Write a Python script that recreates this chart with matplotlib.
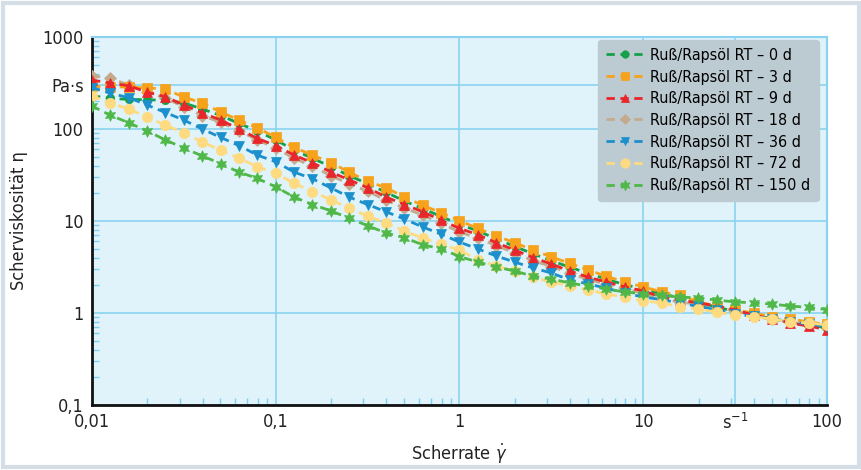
import numpy as np
import matplotlib
matplotlib.use("Agg")
import matplotlib.pyplot as plt
from matplotlib.patches import FancyBboxPatch
from matplotlib.ticker import LogLocator, NullFormatter, FixedLocator, FixedFormatter

plt.rcParams['font.family'] = ['DejaVu Sans']
plt.rcParams['font.stretch'] = 'condensed'

# shear rate, 10 points per decade from 0.01 to 100 1/s
scherrate = 10 ** (np.arange(41) / 10.0 - 2)

eta_0d = [230, 215, 210, 208, 205, 192, 165, 140, 115, 95,
          76, 59, 48, 39, 31, 25.5, 20.5, 16.5, 13.6, 11.2,
          9.2, 7.8, 6.4, 5.3, 4.4, 3.7, 3.15, 2.7, 2.33, 2.03,
          1.82, 1.62, 1.46, 1.30, 1.16, 1.04, 0.95, 0.87, 0.80, 0.74, 0.69]
eta_3d = [290, 288, 285, 280, 272, 222, 192, 153, 125, 103,
          81, 63, 52, 43, 34, 27, 23, 18.2, 14.8, 12.3,
          10.1, 8.3, 6.9, 5.8, 4.84, 4.07, 3.47, 2.93, 2.51, 2.17,
          1.92, 1.70, 1.55, 1.32, 1.19, 1.08, 1.0, 0.91, 0.86, 0.80, 0.75]
eta_9d = [340, 316, 295, 251, 224, 182, 150, 125, 100, 79,
          66, 52, 43, 34, 28, 23, 18.2, 15.1, 12.6, 10.2,
          8.3, 7.1, 5.8, 4.84, 4.0, 3.41, 2.86, 2.45, 2.17, 1.92,
          1.74, 1.49, 1.38, 1.29, 1.19, 1.08, 0.95, 0.86, 0.78, 0.72, 0.66]
eta_18d = [380, 357, 300, 255, 215, 175, 140, 118, 96, 76,
           62, 48, 39.5, 31, 25.5, 21, 16.8, 13.8, 11.6, 9.4,
           7.6, 6.5, 5.4, 4.5, 3.7, 3.2, 2.7, 2.32, 2.05, 1.82,
           1.65, 1.42, 1.32, 1.24, 1.15, 1.05, 0.94, 0.86, 0.79, 0.74, 0.68]
eta_36d = [282, 245, 219, 182, 151, 125, 100, 81, 66, 52,
           44, 34, 28.8, 22.9, 18.2, 15.1, 12.6, 10.5, 8.6, 7.2,
           5.9, 4.97, 4.17, 3.58, 3.09, 2.72, 2.29, 2.07, 1.86, 1.65,
           1.49, 1.40, 1.28, 1.18, 1.08, 0.98, 0.92, 0.86, 0.80, 0.76, 0.71]
eta_72d = [229, 191, 165, 135, 110, 91, 72, 59, 48, 39,
           33, 25.7, 20.9, 17.0, 13.8, 11.3, 9.5, 7.8, 6.5, 5.6,
           4.84, 3.77, 3.24, 2.86, 2.45, 2.17, 1.96, 1.78, 1.61, 1.49,
           1.35, 1.29, 1.16, 1.10, 1.02, 0.95, 0.91, 0.86, 0.80, 0.78, 0.74]
eta_150d = [178, 141, 117, 95, 76, 62, 51, 42, 34, 29,
            23.5, 18.2, 15.1, 12.9, 10.7, 8.9, 7.4, 6.6, 5.5, 5.0,
            4.1, 3.58, 3.16, 2.86, 2.51, 2.34, 2.12, 1.96, 1.82, 1.69,
            1.62, 1.55, 1.49, 1.46, 1.38, 1.32, 1.29, 1.25, 1.19, 1.15, 1.09]

labels = ['Ruß/Rapsöl RT – 0 d', 'Ruß/Rapsöl RT – 3 d', 'Ruß/Rapsöl RT – 9 d',
          'Ruß/Rapsöl RT – 18 d', 'Ruß/Rapsöl RT – 36 d', 'Ruß/Rapsöl RT – 72 d',
          'Ruß/Rapsöl RT – 150 d']
series = [eta_0d, eta_3d, eta_9d, eta_18d, eta_36d, eta_72d, eta_150d]
colors = ['#16a04a', '#f7a21b', '#e8262b', '#c4aa8c', '#1b90cc', '#fedb80', '#4fb848']
markers = ['o', 's', '^', 'D', 'v', 'o', (6, 1, 0)]
msizes = [6, 6.5, 7, 6, 7, 7.5, 8.5]
zorders = [4, 5, 6, 3, 7, 8, 9]

fig = plt.figure(figsize=(8.62, 4.70), dpi=100)
fig.patch.set_facecolor('white')
# light frame round the figure
fig.patches.append(FancyBboxPatch((0.003, 0.006), 0.994, 0.988, boxstyle='square,pad=0',
                                  transform=fig.transFigure, fill=False,
                                  edgecolor='#d5dee6', linewidth=3, zorder=0))

ax = fig.add_axes([0.1067, 0.1383, 0.8527, 0.783])
ax.set_facecolor('#e0f2fa')
ax.set_xscale('log')
ax.set_yscale('log')
ax.set_xlim(0.01, 100)
ax.set_ylim(0.1, 1000)

for y, lab, c, m, ms, z in zip(series, labels, colors, markers, msizes, zorders):
    ax.plot(scherrate, y, linestyle=(0, (3, 2)), linewidth=2, color=c,
            marker=m, markersize=ms, markeredgewidth=0.5, markeredgecolor=c,
            label=lab, zorder=z)

ax.grid(True, which='major', color='#8ad3f0', linewidth=1.2, zorder=1)
ax.set_axisbelow(True)

ax.xaxis.set_major_locator(FixedLocator([0.01, 0.1, 1, 10, 31.6, 100]))
ax.xaxis.set_major_formatter(FixedFormatter(['0,01', '0,1', '1', '10', 's$^{-1}$', '100']))
ax.yaxis.set_major_locator(FixedLocator([0.1, 1, 10, 100, 300, 1000]))
ax.yaxis.set_major_formatter(FixedFormatter(['0,1', '1', '10', '100', 'Pa·s', '1000']))
ax.xaxis.set_minor_locator(LogLocator(base=10, subs=np.arange(2, 10), numticks=20))
ax.yaxis.set_minor_locator(LogLocator(base=10, subs=np.arange(2, 10), numticks=20))
ax.xaxis.set_minor_formatter(NullFormatter())
ax.yaxis.set_minor_formatter(NullFormatter())
ax.tick_params(which='major', length=0, labelsize=13, colors='#222222', pad=6)
ax.tick_params(which='minor', direction='in', length=5, width=1, color='#7fcff0')
# remove the grid line at the s-1 and Pa.s positions
for gl in ax.get_xgridlines():
    if abs(gl.get_xdata()[0] - 31.6) < 1:
        gl.set_visible(False)
for gl in ax.get_ygridlines():
    if abs(gl.get_ydata()[0] - 300) < 1:
        gl.set_visible(False)

for s in ['top', 'right']:
    ax.spines[s].set_color('#8ad3f0')
    ax.spines[s].set_linewidth(1.5)
for s in ['left', 'bottom']:
    ax.spines[s].set_color('#111111')
    ax.spines[s].set_linewidth(2)

ax.set_xlabel('Scherrate $\\dot{\\gamma}$', fontsize=13, color='#222222', labelpad=6)
ax.set_ylabel('Scherviskosität η', fontsize=13, color='#222222', labelpad=10)

leg = ax.legend(loc='upper right', bbox_to_anchor=(0.9885, 0.992), borderaxespad=0,
                fontsize=11.5, frameon=True, fancybox=True, framealpha=1,
                facecolor='#bccad2', edgecolor='#bccad2', handlelength=2.4,
                handletextpad=0.4, borderpad=0.5, labelspacing=0.42, markerscale=0.9)
leg.set_zorder(20)

fig.savefig('out.png', dpi=100)
